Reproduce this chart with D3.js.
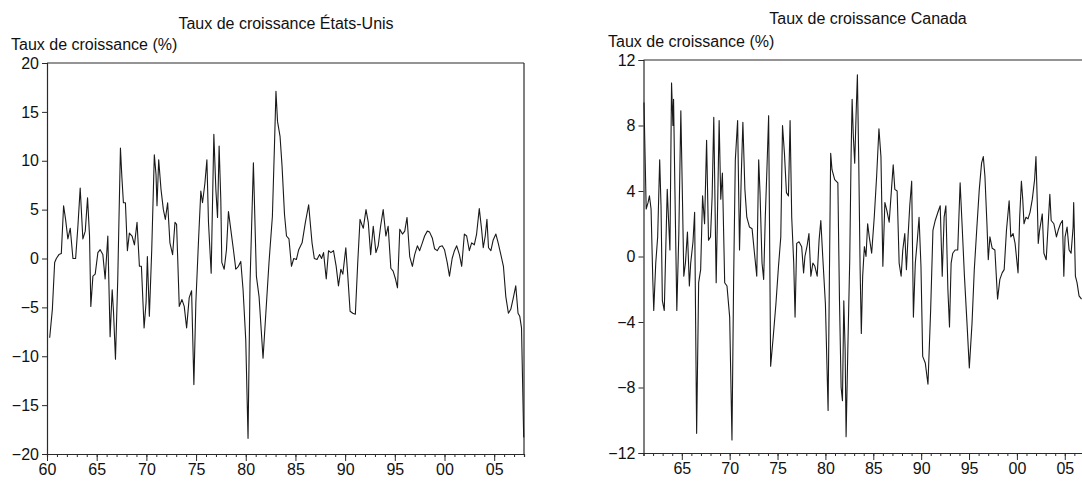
<!DOCTYPE html>
<html><head><meta charset="utf-8">
<script src="https://cdn.jsdelivr.net/npm/d3@7"></script>
<style>
html,body{margin:0;padding:0;background:#fff;}
svg{display:block;}
text{font-family:"Liberation Sans",Arial,sans-serif;fill:#111;}
</style></head>
<body>
<svg id="chart" width="1082" height="482"></svg>
<script>
// ---- Data ----
const usTitle = "Taux de croissance États-Unis";
const caTitle = "Taux de croissance Canada";
const yLabel = "Taux de croissance (%)";

const usYTicks = [20, 15, 10, 5, 0, -5, -10, -15, -20];
const caYTicks = [12, 8, 4, 0, -4, -8, -12];
const usXMajor = [1960, 1965, 1970, 1975, 1980, 1985, 1990, 1995, 2000, 2005];
const caXMajor = [1965, 1970, 1975, 1980, 1985, 1990, 1995, 2000, 2005];
const fmtYear = y => String(y % 100).padStart(2, "0");

const usYears = [1960.27,1960.54,1960.77,1960.94,1961.2,1961.44,1961.67,1961.87,1962.1,1962.34,1962.61,1962.88,1963.11,1963.34,1963.61,1963.85,1964.08,1964.28,1964.41,1964.62,1964.85,1965.12,1965.35,1965.62,1965.85,1966.12,1966.35,1966.56,1966.69,1966.89,1967.12,1967.39,1967.53,1967.69,1967.89,1968.09,1968.29,1968.56,1968.8,1969.06,1969.3,1969.5,1969.77,1969.97,1970.1,1970.3,1970.54,1970.8,1970.97,1971.07,1971.24,1971.47,1971.71,1971.91,1972.14,1972.37,1972.64,1972.88,1973.04,1973.31,1973.58,1973.81,1974.05,1974.31,1974.55,1974.78,1974.98,1975.25,1975.48,1975.65,1975.89,1976.09,1976.25,1976.52,1976.79,1976.99,1977.16,1977.32,1977.49,1977.59,1977.83,1978.06,1978.26,1978.49,1978.76,1979.0,1979.26,1979.5,1979.73,1980.0,1980.23,1980.43,1980.77,1981.07,1981.34,1981.74,1982.34,1982.68,1982.88,1983.04,1983.2,1983.45,1983.65,1983.9,1984.1,1984.35,1984.6,1984.83,1985.1,1985.33,1985.67,1986.0,1986.33,1986.67,1986.9,1987.17,1987.43,1987.63,1987.83,1988.1,1988.33,1988.57,1988.83,1989.1,1989.33,1989.57,1989.77,1990.07,1990.27,1990.5,1990.77,1991.03,1991.27,1991.5,1991.67,1991.83,1992.1,1992.33,1992.57,1992.83,1993.1,1993.33,1993.57,1993.83,1994.1,1994.33,1994.6,1994.83,1995.07,1995.27,1995.5,1995.77,1996.0,1996.23,1996.5,1996.77,1997.0,1997.27,1997.5,1997.77,1998.0,1998.27,1998.5,1998.77,1999.0,1999.27,1999.5,1999.77,2000.0,2000.27,2000.5,2000.77,2001.0,2001.23,2001.5,2001.73,2002.0,2002.23,2002.5,2002.73,2003.0,2003.23,2003.5,2003.73,2003.9,2004.1,2004.27,2004.43,2004.67,2004.9,2005.17,2005.4,2005.67,2005.93,2006.17,2006.43,2006.67,2006.93,2007.17,2007.4,2007.57,2007.75,2007.97];
const usValues = [-8.1,-5.2,-0.4,0,0.4,0.5,5.4,4,2,3.1,0,0,3.3,7.2,2,2.8,6.2,2.3,-4.9,-1.8,-1.6,0.6,0.9,0.4,-2.1,2.3,-8,-3.2,-5.4,-10.3,-2.1,11.3,8.4,5.7,5.7,0.8,2.6,2.3,1.4,3.7,-0.8,-0.8,-7.1,-4.5,0.2,-5.9,0.9,10.6,8.6,5.4,10.1,7.1,5,4,5.7,1.6,0.4,3.7,3.5,-4.9,-4.2,-4.9,-7.1,-4,-3.3,-12.9,-4.5,1.9,6.9,5.7,7.7,10.1,3.7,-1.5,12.7,7.1,4.2,11.5,6,-0.4,-1.1,0.9,4.8,3,0.9,-1.1,-0.8,-0.3,-3.2,-8.3,-18.4,-2.5,9.8,-1.8,-3.9,-10.2,-0.4,4.3,11.2,17.1,14,12.5,9.5,4.5,2.3,2,-0.8,0,-0.1,0.9,1.6,3.7,5.5,1.6,0,-0.1,0.4,0,0.6,-2.1,0.8,0.6,0.8,-0.8,-2.8,-1.1,-1.6,1.1,-1.8,-5.4,-5.6,-5.7,-0.4,4,3.5,3.1,5,3.7,0.4,3.3,0.6,1.3,3.3,5,2.3,3.3,-1,-1.3,-2.1,-3,3,2.5,2.8,4.2,0.2,-0.8,0.4,1.3,0.8,1.6,2.3,2.8,2.7,2.1,1,0.8,1.2,1.3,0.9,-0.4,-1.8,0,0.8,1.3,0.4,-0.8,2.5,2.3,0.8,1.6,1.4,2.5,5.1,3,1.1,2.3,4,1.1,0.8,1.9,2.5,1.6,0.4,-0.8,-3.9,-5.6,-5.2,-4,-2.8,-5.6,-5.9,-7.1,-18.3];

const caYears = [1961.05,1961.28,1961.48,1961.62,1961.79,1961.97,1962.07,1962.28,1962.48,1962.69,1962.83,1962.97,1963.17,1963.34,1963.48,1963.62,1963.76,1963.93,1964.07,1964.14,1964.28,1964.48,1964.69,1964.9,1965.07,1965.21,1965.38,1965.59,1965.79,1965.93,1966.17,1966.34,1966.55,1966.76,1966.97,1967.17,1967.38,1967.59,1967.79,1968.0,1968.17,1968.34,1968.59,1968.72,1968.9,1969.07,1969.24,1969.48,1969.72,1970.0,1970.24,1970.41,1970.59,1970.83,1971.03,1971.21,1971.38,1971.59,1971.79,1972.07,1972.34,1972.59,1972.83,1973.03,1973.17,1973.38,1973.55,1973.72,1973.9,1974.07,1974.28,1974.55,1974.83,1975.1,1975.34,1975.52,1975.72,1975.93,1976.14,1976.31,1976.48,1976.69,1976.83,1977.0,1977.24,1977.52,1977.72,1977.86,1978.1,1978.28,1978.48,1978.69,1978.9,1979.14,1979.34,1979.52,1979.72,1980.0,1980.28,1980.41,1980.55,1980.69,1980.97,1981.3,1981.47,1981.64,1981.78,1981.92,1982.06,1982.16,1982.34,1982.54,1982.68,1982.79,1982.92,1983.06,1983.2,1983.34,1983.48,1983.62,1983.75,1983.89,1984.07,1984.24,1984.41,1984.58,1984.83,1985.1,1985.35,1985.59,1985.8,1986.0,1986.21,1986.42,1986.66,1986.9,1987.08,1987.25,1987.49,1987.7,1987.91,1988.08,1988.29,1988.46,1988.63,1988.81,1989.01,1989.19,1989.39,1989.6,1989.78,1989.98,1990.16,1990.43,1990.71,1990.99,1991.23,1991.47,1991.75,1991.99,1992.2,1992.4,1992.58,1992.79,1992.96,1993.13,1993.3,1993.55,1993.82,1994.07,1994.27,1994.52,1994.79,1995.03,1995.31,1995.55,1995.8,1996.07,1996.31,1996.49,1996.66,1996.87,1997.01,1997.18,1997.42,1997.7,1997.98,1998.22,1998.46,1998.67,1998.91,1999.19,1999.36,1999.6,1999.81,2000.12,2000.29,2000.47,2000.61,2000.74,2000.95,2001.16,2001.37,2001.61,2001.85,2001.99,2002.13,2002.23,2002.37,2002.65,2002.82,2003.06,2003.27,2003.44,2003.58,2003.86,2004.13,2004.31,2004.55,2004.76,2004.9,2005.03,2005.24,2005.45,2005.66,2005.87,2005.93,2006.11,2006.28,2006.49,2006.75];
const caValues = [9.4,2.9,3.3,3.7,2.9,-1.4,-3.3,-0.4,1.2,5.9,3.1,-2.7,-3.3,0.8,4.1,2.2,0.4,10.6,8,9.6,4.1,-3.3,1.4,8.9,3.5,-1.2,-0.4,1.5,-1.8,-0.4,0.9,2.7,-10.8,-1.6,-0.8,3.7,2,7.1,1,1.2,3.7,8.5,-1.6,2.4,8.3,3.5,5.1,-1.6,-1.8,-3.7,-11.2,-1.6,5.9,8.3,0.4,4.9,8.2,4.1,2.4,1.8,1.7,0.2,-1.2,5.9,3.9,-0.4,-1.4,2.4,5.5,8.6,-6.7,-4.9,-2.9,-0.6,1.2,8,6.3,3.9,3.7,8.3,2.4,-0.4,-3.7,0.8,0.9,0.6,-1,0,0.7,1.4,-1.2,-0.4,-0.6,-1.2,1,2.2,0,-2.9,-9.4,-1.6,6.3,5.3,4.7,4.5,-2.7,-8,-8.8,-2.7,-5.7,-11,-5.7,-0.2,6.1,9.6,7.3,5.7,8.6,11.1,5.9,-0.6,-4.7,-1.2,0.6,0,2,1.2,0.2,2.4,4.9,7.8,6.1,-0.6,3.3,2.8,2.1,4.1,5.6,4.1,4,-0.4,-1.2,0.4,1.4,-0.8,1.2,3.1,4.6,-3.7,-0.4,1,2.4,-0.6,-6.1,-6.5,-7.8,-3.3,1.6,2.2,2.7,3.1,-1.2,2.4,3.1,-2,-4.3,-0.4,0.2,0.4,0.4,4.5,2,-1.2,-4.1,-6.8,-4.1,-0.8,1.6,4.1,5.7,6.1,4.9,2,-0.2,1.2,0.5,0.4,-2.6,-1.4,-1,-0.8,1.6,3.4,1.2,1.4,0.8,-1,2.4,4.6,3.5,2,2.4,2.3,2.7,3.5,4.7,6.1,3.3,0.8,1.6,2.6,0.2,-0.2,2,3.8,2.2,2,1.2,1.6,2,2.2,-1.2,1.2,1.8,0.4,0.2,1.8,3.3,-1.2,-1.6,-2.4,-2.6];

// ---- Drawing ----
const svg = d3.select("#chart");
const AX = "#2a2a2a";
const FS = "16px";

function panel(cfg) {
  const x = d3.scaleLinear().domain(cfg.xDomain).range(cfg.xRange);
  const y = d3.scaleLinear().domain(cfg.yDomain).range(cfg.yRange);
  const g = svg.append("g");
  const [x0, x1] = cfg.xRange, [y0, y1] = cfg.yRange; // y0 bottom, y1 top

  // frame: top and right
  g.append("line").attr("x1", x0).attr("x2", x1).attr("y1", y1).attr("y2", y1)
    .attr("stroke", AX).attr("stroke-width", 1.2);
  g.append("line").attr("x1", x1).attr("x2", x1).attr("y1", y1).attr("y2", y0)
    .attr("stroke", AX).attr("stroke-width", 1.2);

  // y axis
  const ya = g.append("g").attr("transform", `translate(${x0},0)`)
    .call(d3.axisLeft(y).tickValues(cfg.yTicks).tickSize(5).tickPadding(3).tickFormat(d3.format("d")));
  ya.select(".domain").attr("stroke", AX).attr("stroke-width", 1.2);
  ya.selectAll(".tick line").attr("stroke", AX);
  ya.selectAll("text").style("font-size", FS).attr("fill", "#111");

  // x axis minor (yearly) ticks
  const minor = d3.range(Math.ceil(cfg.xDomain[0]), Math.floor(cfg.xDomain[1]) + 1);
  const xm = g.append("g").attr("transform", `translate(0,${y0})`)
    .call(d3.axisBottom(x).tickValues(minor).tickSize(3).tickFormat(""));
  xm.select(".domain").attr("stroke", AX).attr("stroke-width", 1.2);
  xm.selectAll(".tick line").attr("stroke", AX);

  // x axis major ticks with labels
  const xa = g.append("g").attr("transform", `translate(0,${y0})`)
    .call(d3.axisBottom(x).tickValues(cfg.xMajor).tickSize(7).tickPadding(3).tickFormat(fmtYear));
  xa.select(".domain").remove();
  xa.selectAll(".tick line").attr("stroke", AX);
  xa.selectAll("text").style("font-size", FS).attr("fill", "#111");

  // series line
  const pts = cfg.years.map((yr, i) => [yr, cfg.values[i]]);
  g.append("path").datum(pts)
    .attr("fill", "none").attr("stroke", "#1a1a1a").attr("stroke-width", 1.1)
    .attr("stroke-linejoin", "round")
    .attr("d", d3.line().x(d => x(d[0])).y(d => y(d[1])));

  // title and y label
  svg.append("text").attr("x", cfg.titleX).attr("y", cfg.titleY).attr("text-anchor", "middle")
    .style("font-size", FS).text(cfg.title);
  svg.append("text").attr("x", cfg.ylabX).attr("y", cfg.ylabY)
    .style("font-size", FS).text(yLabel);
}

panel({
  title: usTitle, titleX: 286, titleY: 29, ylabX: 11, ylabY: 50,
  xDomain: [1960, 2008], xRange: [47, 524],
  yDomain: [-20, 20], yRange: [454, 63],
  yTicks: usYTicks, xMajor: usXMajor,
  years: usYears, values: usValues
});
panel({
  title: caTitle, titleX: 868, titleY: 24, ylabX: 608, ylabY: 47,
  xDomain: [1961, 2008], xRange: [643.5, 1093.5],
  yDomain: [-12, 12], yRange: [453, 60],
  yTicks: caYTicks, xMajor: caXMajor,
  years: caYears, values: caValues
});
</script>
</body></html>
